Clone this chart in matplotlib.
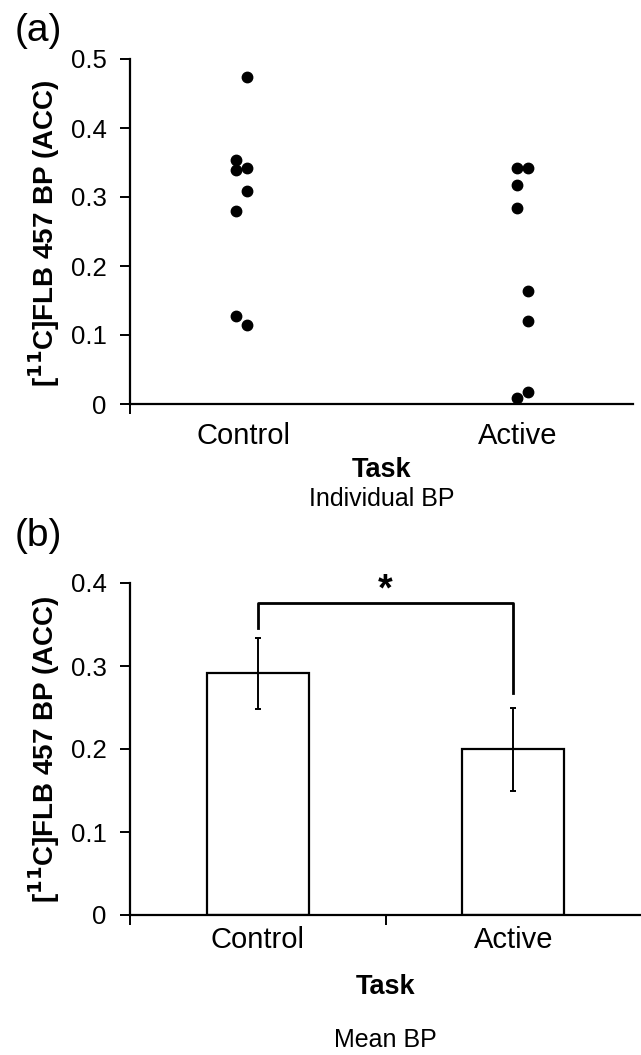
import matplotlib.pyplot as plt

plt.rcParams['font.family'] = ['Liberation Sans', 'DejaVu Sans']

# Panel (a): individual binding potentials
categories = ['Control', 'Active']
control_bp = [0.474, 0.354, 0.339, 0.342, 0.309, 0.279, 0.128, 0.114]
control_side = [1, -1, -1, 1, 1, -1, -1, 1]
active_bp = [0.342, 0.342, 0.318, 0.284, 0.164, 0.121, 0.017, 0.009]
active_side = [-1, 1, -1, -1, 1, 1, 1, -1]

# Panel (b): mean binding potentials with error bars
mean_bp = [0.291, 0.200]
err_bp = [0.043, 0.050]
bracket_y = 0.376
bracket_legs = [0.346, 0.267]

ylabel = r'[$^{\mathbf{11}}$C]FLB 457 BP (ACC)'
W, H = 641, 1055

fig = plt.figure(figsize=(W / 100, H / 100), dpi=100)

# ---------------- (a) ----------------
ax1 = fig.add_axes([130 / W, 1 - 404 / H, 503 / W, 345 / H])
jit = 0.02
centers = [-0.009, 1.016]
xs_c = [centers[0] + s * jit for s in control_side]
xs_a = [centers[1] + s * jit for s in active_side]
ax1.plot(xs_c, control_bp, 'o', color='black', markersize=7.5, clip_on=False)
ax1.plot(xs_a, active_bp, 'o', color='black', markersize=7.5, clip_on=False)
ax1.set_xlim(-0.416, 1.42)
ax1.set_ylim(0, 0.5)
ax1.set_yticks([0, 0.1, 0.2, 0.3, 0.4, 0.5])
ax1.set_yticklabels(['0', '0.1', '0.2', '0.3', '0.4', '0.5'])
ax1.set_xticks([-0.416])
ax1.set_xticklabels([''])
for x, lab in enumerate(categories):
    ax1.text(x, -0.093, lab, ha='center', va='center', fontsize=21,
             transform=ax1.get_xaxis_transform())
ax1.text(0.5, -0.191, 'Task', ha='center', va='center', fontsize=19.5,
         fontweight='bold', transform=ax1.transAxes)
ax1.text(0.5, -0.275, 'Individual BP', ha='center', va='center', fontsize=18,
         transform=ax1.transAxes)
fig.text(44 / W, 1 - 233 / H, ylabel, rotation=90, ha='center', va='center',
         fontsize=20, fontweight='bold')
fig.text(38 / W, 1 - 31 / H, '(a)', ha='center', va='center', fontsize=28)
for sp in ['top', 'right']:
    ax1.spines[sp].set_visible(False)

# ---------------- (b) ----------------
ax2 = fig.add_axes([130 / W, 1 - 915 / H, 1 - 130 / W, 332 / H])
xb = range(len(categories))
ax2.bar(xb, mean_bp, width=0.4, color='white', edgecolor='black',
        linewidth=1.6, zorder=2)
ax2.errorbar(xb, mean_bp, yerr=err_bp, fmt='none', ecolor='black',
             elinewidth=1.4, capsize=2, capthick=1.4, zorder=3)
ax2.plot([0, 0, 1, 1], [bracket_legs[0], bracket_y, bracket_y, bracket_legs[1]],
         color='black', linewidth=2, clip_on=False)
ax2.text(0.5, 0.379, '*', ha='center', va='baseline', fontsize=27,
         fontweight='bold', clip_on=False)
ax2.set_xlim(-0.5, 1.5)
ax2.set_ylim(0, 0.4)
ax2.set_yticks([0, 0.1, 0.2, 0.3, 0.4])
ax2.set_yticklabels(['0', '0.1', '0.2', '0.3', '0.4'])
ax2.set_xticks([-0.5, 0.5])
ax2.set_xticklabels(['', ''])
for x, lab in enumerate(categories):
    ax2.text(x, -0.075, lab, ha='center', va='center', fontsize=21,
             transform=ax2.get_xaxis_transform())
ax2.text(0.5, -0.217, 'Task', ha='center', va='center', fontsize=19.5,
         fontweight='bold', transform=ax2.transAxes)
ax2.text(0.5, -0.377, 'Mean BP', ha='center', va='center', fontsize=18,
         transform=ax2.transAxes)
fig.text(44 / W, 1 - 749 / H, ylabel, rotation=90, ha='center', va='center',
         fontsize=20, fontweight='bold')
fig.text(38 / W, 1 - 536 / H, '(b)', ha='center', va='center', fontsize=28)
for sp in ['top', 'right']:
    ax2.spines[sp].set_visible(False)

for ax in (ax1, ax2):
    for sp in ['left', 'bottom']:
        ax.spines[sp].set_linewidth(1.6)
    ax.tick_params(axis='both', direction='out', length=7, width=1.4,
                   labelsize=18.5, pad=10)

fig.savefig('out.png', dpi=100)
